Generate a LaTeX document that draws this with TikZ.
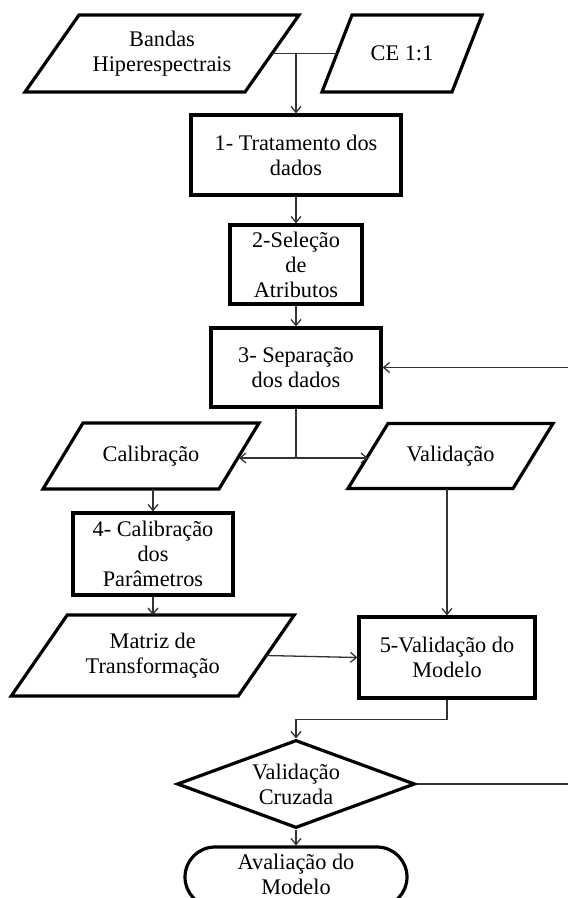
\documentclass[tikz,border=0pt]{standalone}
\usepackage{fontspec}
\setmainfont{Liberation Serif}
\usetikzlibrary{shapes.geometric,shapes.misc,arrows.meta}

\begin{document}
\begin{tikzpicture}[x=1pt,y=-1pt,
  every node/.style={font=\fontsize{22.3}{25}\selectfont, align=center, text=black},
  outline/.style={draw=black, line width=3.2pt},
  procbox/.style={outline, rectangle, inner sep=2pt},
  iotext/.style={rectangle, inner sep=2pt, outer sep=0pt},
  decision/.style={outline, diamond, aspect=2.7, inner sep=0pt},
  terminal/.style={outline, rounded rectangle, inner sep=2pt, text depth=6pt},
  link/.style={draw=black!80, line width=1.3pt},
  flow/.style={link, -{Straight Barb[length=6pt,width=10pt]}}
]
\fill[white] (0,0) rectangle (568,898);
\useasboundingbox (0,0) rectangle (568,898);

% input/output parallelograms: text node + slanted outline (slant given as xshift)
\node[iotext, minimum width=274pt, minimum height=77pt] (bandas) at (162,53.5) {Bandas\\Hiperespectrais};
\draw[outline] ([xshift=54pt]bandas.north west) -- (bandas.north east)
  -- ([xshift=-54pt]bandas.south east) -- (bandas.south west) -- cycle;
\coordinate (bandasR) at ([xshift=-27pt]bandas.east);

\node[iotext, minimum width=160pt, minimum height=77pt] (ce) at (402,53.5) {CE 1:1};
\draw[outline] ([xshift=30pt]ce.north west) -- (ce.north east)
  -- ([xshift=-30pt]ce.south east) -- (ce.south west) -- cycle;
\coordinate (ceL) at ([xshift=15pt]ce.west);

% main processing column
\node[procbox, minimum width=210pt, minimum height=80pt] (box1) at (296,155) {1- Tratamento dos\\dados};
\node[procbox, minimum width=132pt, minimum height=79pt] (box2) at (296,264.5) {2-Seleção\\de\\Atributos};
\node[procbox, minimum width=170pt, minimum height=79pt] (box3) at (296,367.5) {3- Separação\\dos dados};

% calibration / validation split
\node[iotext, minimum width=216pt, minimum height=66pt] (calib) at (151,456) {Calibração};
\draw[outline] ([xshift=40pt]calib.north west) -- (calib.north east)
  -- ([xshift=-40pt]calib.south east) -- (calib.south west) -- cycle;
\coordinate (calibR) at ([xshift=-20pt]calib.east);

\node[iotext, minimum width=205pt, minimum height=65pt] (valid) at (450.5,456) {Validação};
\draw[outline] ([xshift=40pt]valid.north west) -- (valid.north east)
  -- ([xshift=-40pt]valid.south east) -- (valid.south west) -- cycle;
\coordinate (validL) at ([xshift=20pt]valid.west);

\node[procbox, minimum width=160pt, minimum height=82pt] (box4) at (153,554) {4- Calibração\\dos\\Parâmetros};

\node[iotext, minimum width=283pt, minimum height=81pt] (matriz) at (152.75,655.5) {Matriz de\\Transformação};
\draw[outline] ([xshift=56pt]matriz.north west) -- (matriz.north east)
  -- ([xshift=-56pt]matriz.south east) -- (matriz.south west) -- cycle;
\coordinate (matrizR) at ([xshift=-28pt]matriz.east);

\node[procbox, minimum width=176pt, minimum height=81pt] (box5) at (447,657.5) {5-Validação do\\Modelo};

% decision and end
\node[decision, minimum width=238pt, minimum height=88pt] (cross) at (296,784) {Validação\\Cruzada};
\node[terminal, minimum width=226pt, minimum height=60pt] (term) at (296,877) {Avaliação do\\Modelo};

% connectors
\draw[link] (bandasR) -- (ceL);
\draw[flow] (bandasR -| box1.north) -- (box1.north);
\draw[flow] (box1.south) -- (box2.north);
\draw[flow] (box2.south) -- (box3.north);
\draw[link] (box3.south) -- ([yshift=-2pt]box3.south |- calibR) coordinate (split);
\draw[flow] (split) -- (split -| calibR);
\draw[flow] (split) -- (split -| validL);
\draw[flow] (box4.north |- calib.south) -- (box4.north);
\draw[flow] (box4.south) -- (box4.south |- matriz.north);
\draw[flow] (valid.south -| box5.north) -- (box5.north);
\draw[flow] (matrizR) -- (box5.west);
\draw[flow] (box5.south) -- ++(0,20) -| (cross.north);
\draw[flow] (cross.south) -- (term.north);
\coordinate (rim) at (571,0);
\draw[flow] (cross.east) -- (cross.east -| rim) |- (box3.east);
\end{tikzpicture}
\end{document}
